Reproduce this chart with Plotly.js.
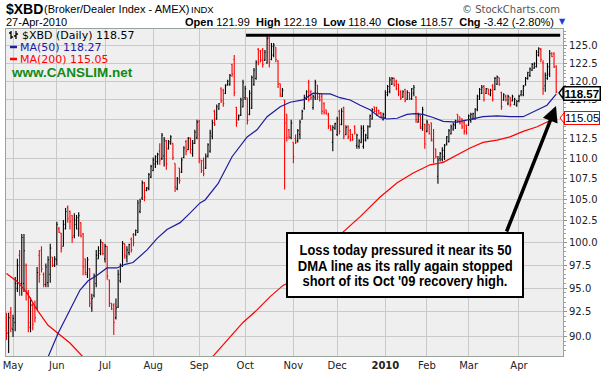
<!DOCTYPE html>
<html><head><meta charset="utf-8">
<script src="https://cdn.plot.ly/plotly-3.0.1.min.js"></script>
<style>html,body{margin:0;padding:0;background:#fff;}#chart{width:604px;height:378px;}</style>
</head><body><div id="chart"></div>
<script>
// Daily bars, 28-Apr-2009 .. 27-Apr-2010 (trading-day index 0..251)
const openP = [92.0,90.3,92.4,90.7,91.4,95.0,98.6,95.5,95.5,97.5,94.6,90.9,93.2,92.9,92.9,98.6,99.1,96.5,95.4,95.6,96.5,98.4,97.5,98.1,
101.6,101.1,99.6,101.6,104.1,103.6,103.1,100.8,102.1,101.6,102.3,101.0,98.2,96.5,97.1,92.9,94.2,95.5,98.2,98.8,100.0,
98.2,99.6,95.9,93.4,93.2,91.9,93.0,95.8,97.5,99.9,98.4,98.9,100.4,100.9,100.9,101.2,103.6,105.2,107.0,106.1,106.3,107.7,
108.5,109.3,109.6,110.9,110.0,110.3,112.2,111.2,111.9,111.9,109.4,106.3,108.8,108.3,110.1,112.1,111.1,112.6,110.6,111.9,112.6,
114.7,109.8,109.7,108.8,110.3,110.9,112.8,116.0,115.0,116.3,119.0,118.8,118.4,119.6,119.6,122.3,123.0,116.5,114.9,115.5,116.6,
117.8,117.8,115.6,116.4,119.6,120.4,124.4,124.2,124.3,122.9,122.5,126.0,123.0,123.6,124.7,122.8,119.7,118.0,117.5,115.6,113.6,112.6,
112.0,112.5,112.2,113.0,115.0,116.4,117.6,119.8,118.6,116.5,117.8,119.5,118.3,118.0,117.0,116.2,115.5,114.2,112.0,113.8,
113.0,116.0,114.3,116.5,113.0,114.0,113.5,113.0,114.0,111.6,111.5,112.0,111.5,112.3,112.6,114.0,115.0,116.6,116.5,116.1,115.8,114.9,
115.2,118.2,118.6,119.6,120.4,120.0,119.6,118.6,117.9,118.9,117.6,118.5,117.7,118.4,117.9,114.6,115.4,113.8,114.3,
113.4,114.3,114.5,112.2,111.2,107.8,110.0,109.9,110.2,111.8,112.1,113.1,113.7,114.2,115.6,115.3,115.0,114.5,114.2,
114.2,114.8,115.0,115.0,116.2,117.6,118.4,119.3,118.4,119.0,118.2,119.4,118.9,119.6,120.5,118.5,117.5,118.0,117.0,117.9,117.4,116.9,116.8,
117.4,118.2,118.2,119.5,120.4,120.8,121.5,121.8,122.0,123.6,124.4,122.5,119.4,120.4,121.0,123.9,123.8,121.99];
const highP = [92.4,92.4,93.0,92.2,96.2,98.2,99.2,101.0,101.0,97.7,94.8,94.0,93.4,93.7,97.3,99.2,99.6,96.7,97.7,98.5,99.9,98.4,98.5,102.4,
101.8,101.1,102.6,104.0,104.3,103.7,103.2,103.4,103.2,103.5,102.3,101.1,98.2,98.4,97.2,94.4,96.6,99.2,99.6,100.4,100.1,
99.9,99.6,95.9,93.4,93.4,93.9,97.0,97.7,100.2,99.9,99.6,99.9,100.6,101.1,101.5,104.95,105.1,107.3,107.1,106.5,108.2,109.2,
110.1,110.4,110.7,111.9,113.2,112.7,112.3,112.3,112.9,111.9,109.4,107.7,108.8,110.1,111.5,112.3,112.7,112.6,112.3,113.6,114.9,
114.9,109.8,110.1,110.6,111.9,113.6,114.9,116.2,116.9,117.1,119.2,119.0,119.6,120.2,121.0,122.4,123.6,116.6,115.6,117.8,120.2,
119.4,117.8,118.8,120.8,121.8,122.9,124.6,124.3,124.6,124.3,126.4,126.2,125.3,125.3,124.7,122.9,119.7,119.1,117.5,115.6,113.7,114.9,
112.0,113.0,113.7,114.9,116.2,118.2,118.8,120.2,118.8,118.2,120.2,119.5,118.3,118.3,117.2,116.2,115.8,114.2,114.2,114.5,
115.3,116.2,116.4,116.6,114.2,114.2,113.7,113.1,114.2,113.1,112.4,114.2,114.2,113.1,114.2,115.6,116.4,116.6,116.6,116.2,115.9,115.8,
118.8,119.5,120.6,120.6,120.5,120.2,119.7,118.8,118.8,119.0,118.8,118.5,119.1,119.5,118.0,115.8,115.6,116.6,114.4,
114.9,114.3,114.5,113.7,111.2,110.3,110.8,111.4,111.8,112.8,113.7,114.3,114.5,114.9,115.6,115.3,115.1,114.9,114.3,
115.6,115.8,115.8,116.4,118.2,119.1,119.5,119.5,119.1,119.0,119.0,119.6,120.6,120.8,120.5,118.6,118.4,118.2,118.2,117.9,118.2,117.8,117.5,
118.2,118.8,119.5,120.6,121.3,121.9,122.5,122.6,124.3,124.7,124.6,122.9,121.2,122.5,124.3,124.0,124.0,122.19];
const lowP = [89.6,88.3,90.4,89.9,90.5,94.6,94.2,94.2,94.6,93.7,90.4,90.4,90.6,91.4,92.7,95.6,96.7,95.1,95.1,95.1,95.6,97.3,97.3,97.5,
101.1,98.9,99.6,101.5,102.3,101.5,100.0,100.5,101.5,100.7,100.6,96.4,96.4,96.1,93.0,92.5,94.0,95.1,98.2,98.6,98.6,
97.8,95.9,93.0,92.7,90.1,91.7,92.9,95.6,97.3,98.2,97.8,98.6,98.9,99.6,100.8,101.1,103.4,104.95,104.8,106.0,106.1,107.6,
108.4,108.8,109.2,109.2,109.8,109.0,108.6,111.1,111.7,109.8,105.9,106.1,106.9,108.2,110.0,110.4,111.0,110.6,110.2,111.8,112.4,
109.4,108.2,107.8,108.7,110.1,110.7,112.4,114.1,114.9,116.2,117.1,116.6,118.3,119.4,119.4,120.6,118.0,114.0,114.8,115.4,116.5,
117.5,114.3,115.5,116.3,119.4,120.2,122.2,122.6,121.9,122.8,122.4,121.9,122.9,123.3,122.6,119.1,117.9,117.9,106.2,112.1,112.4,112.4,
109.4,111.8,112.0,112.4,114.9,116.2,117.5,117.3,117.5,116.2,117.5,117.5,117.3,115.6,115.6,115.6,113.7,113.5,110.9,113.6,
112.8,113.0,114.2,112.4,112.9,112.4,112.1,112.2,113.0,111.2,111.2,111.9,111.2,112.1,112.4,113.9,114.9,115.9,115.4,115.6,115.1,114.8,
115.1,118.0,118.4,119.5,119.3,118.8,118.0,117.5,117.8,117.2,117.5,117.5,117.5,118.0,114.5,114.5,113.7,113.5,111.2,
113.3,113.0,112.1,109.4,110.0,106.9,109.6,109.6,109.8,111.6,112.0,113.0,113.5,113.7,114.5,114.3,113.7,113.0,113.0,
114.1,114.5,114.9,114.9,116.0,117.5,118.3,117.3,118.3,118.2,118.0,117.3,118.8,119.5,119.4,116.2,117.4,117.3,116.8,116.6,117.3,116.8,116.6,
117.2,118.0,118.0,119.4,120.2,120.6,121.4,121.7,121.9,123.4,122.6,118.2,118.6,120.2,120.6,123.3,121.8,118.40];
const closeP = [90.3,91.9,90.8,91.8,95.5,97.5,95.5,100.6,99.1,94.4,91.4,93.2,91.2,91.9,96.7,96.5,97.1,95.4,97.3,98.1,99.4,97.5,98.2,102.1,
101.2,99.4,102.1,103.6,102.8,102.4,100.6,102.6,102.9,103.1,100.8,97.3,96.7,98.1,93.4,93.9,96.3,98.6,99.1,100.1,98.8,
99.6,96.3,93.4,92.8,91.4,92.9,96.5,97.5,99.9,98.6,99.2,99.8,99.2,100.0,101.4,104.6,104.8,107.0,105.3,106.4,108.0,109.0,
109.8,110.2,110.5,109.8,112.9,112.3,109.3,112.1,112.7,110.1,106.5,107.5,107.3,109.8,111.3,110.9,112.5,111.1,111.9,113.3,114.6,
110.0,108.5,108.1,110.2,111.7,113.2,114.5,114.3,116.6,117.0,117.4,117.0,119.4,120.0,120.8,121.0,118.5,114.5,115.4,117.5,119.8,
119.0,114.8,118.4,120.5,121.5,122.6,122.6,122.9,122.3,124.0,125.9,122.6,124.8,125.0,123.0,119.6,118.2,118.8,114.5,112.6,112.7,114.5,
110.2,112.0,113.5,114.6,116.0,117.8,118.6,117.6,117.8,118.0,119.8,117.9,117.5,116.0,115.9,115.7,114.0,113.6,113.9,114.4,
115.0,113.4,116.0,112.8,113.9,112.7,112.3,112.4,113.2,112.9,112.2,113.8,113.5,112.9,114.0,115.4,116.2,116.0,115.6,115.7,115.3,115.6,
118.5,119.3,120.2,120.4,119.5,119.0,118.3,117.7,118.6,117.4,118.5,117.6,119.0,119.2,114.9,115.6,114.0,116.2,111.8,
114.6,113.1,112.4,110.0,110.2,109.8,110.6,111.0,111.6,112.7,113.5,114.0,114.3,114.8,114.8,114.5,114.0,113.4,113.2,
115.4,115.6,115.7,116.3,118.0,118.9,119.2,117.6,119.0,118.3,118.8,117.6,120.4,120.6,119.6,116.6,118.2,117.5,118.0,116.9,118.0,117.6,117.3,
118.0,118.7,119.3,120.4,121.2,121.7,122.3,122.4,124.0,124.5,123.0,119.0,120.8,122.0,123.8,123.4,121.99,118.57];

// Moving averages (trading-day index, value)
const ma50Idx = [17.6,19,23.6,29,33.6,37.3,41.4,45.9,50.5,54.2,57.8,64.2,68.8,73.3,79.3,83.8,88.4,90.7,96.6,103,109.9,114.4,119,125,129.5,135.4,140,144.6,147.8,152.3,156.9,161.5,166,170.6,173.8,178.4,182.9,186.6,190.2,194.8,199.4,205.7,211.7,217.6,224,229.9,235.9,242.3,246.8,251];
const ma50Val = [87.1,87.9,90.3,92.7,94.8,95.8,96.4,97.2,97.2,97.6,97.8,99.2,100.5,101.5,102.3,103.4,104.6,104.95,106.9,110.2,112.7,113.6,115.3,116.6,117.2,117.5,118.4,118.3,118.3,117.8,117.5,116.8,116.2,115.2,115.0,115.1,115.6,115.7,115.6,115.2,114.7,114.6,115.0,115.3,115.4,115.3,115.3,116.2,116.8,118.27];
const ma200Idx = [0,5,9.4,14,19,23.6,29,35,40.5,60,94,100.7,108,114.4,120.4,126.3,128.1,141,153.7,161.5,170.6,178.4,185.7,193.4,199.4,205.7,211.7,217.6,224,229.9,235.9,242.3,246.8,251];
const ma200Val = [96.6,95.7,94.5,92.7,91.1,90.3,89.3,87.9,86.6,null,87.9,89.6,91.4,92.7,94.1,95.3,95.5,98.4,101.2,103.0,105.3,107.0,108.2,109.2,109.5,110.4,111.3,112.0,112.3,112.7,113.4,114.0,114.6,115.05];

// Oct '09 recovery high reference line
const highLineIdx = [109.4, 252.8];
const highLineVal = [126.4, 126.4];

const monthTickIdx = [3,23,45,67,88,109,131,151,173,192,211,234];
const monthTickText = ['May','Jun','Jul','Aug','Sep','Oct','Nov','Dec','<b>2010</b>','Feb','Mar','Apr'];
const yTickVals = [90,92.5,95,97.5,100,102.5,105,107.5,110,112.5,115,117.5,120,122.5,125];
const yTickText = ['90.0','92.5','95.0','97.5','100.0','102.5','105.0','107.5','110.0','112.5','115.0','117.5','120.0','122.5','125.0'];
const yMinorVals = [88.5,89,89.5,90.5,91,91.5,92,93,93.5,94,94.5,95.5,96,96.5,97,98,98.5,99,99.5,100.5,101,101.5,102,103,103.5,104,104.5,105.5,106,106.5,107,108,108.5,109,109.5,110.5,111,111.5,112,113,113.5,114,114.5,115.5,116,116.5,117,118,118.5,119,119.5,120.5,121,121.5,122,123,123.5,124,124.5,125.5,126,126.5,127];

const yMin = 88.0, yMax = 127.3;
const PL = 6, PR = 563, PT = 29, PB = 356;
const px = x => (x - PL) / (PR - PL);
const py = y => (PB - y) / (PB - PT);

const idx = closeP.map((_, i) => i);

const traces = [
  {type:'scatter', mode:'lines', x: ma200Idx, y: ma200Val, line:{color:'#ff0000', width:1.2}, connectgaps:false, hoverinfo:'skip'},
  {type:'scatter', mode:'lines', x: ma50Idx, y: ma50Val, line:{color:'#1c1c9c', width:1.2}, hoverinfo:'skip'},
  {type:'ohlc', x: idx, open: openP, high: highP, low: lowP, close: closeP, tickwidth:0.45,
   increasing:{line:{color:'#000000', width:1.1}}, decreasing:{line:{color:'#ff0000', width:1.1}}, hoverinfo:'skip'},
  {type:'scatter', mode:'lines', x: highLineIdx, y: highLineVal, line:{color:'#000000', width:3}, hoverinfo:'skip'}
];

const F = 'Liberation Sans, Arial, sans-serif';
const V = 'DejaVu Sans, Verdana, sans-serif';

function txt(x, y, text, size, opts) {
  return Object.assign({xref:'paper', yref:'paper', x: px(x), y: py(y), text: text, showarrow:false,
    xanchor:'left', yanchor:'middle', font:{family:F, size:size, color:'#000'}}, opts || {});
}

const boxLines = ['Loss today pressured it near its 50', 'DMA line as its rally again stopped', "short of its Oct '09 recovery high."];
const boxLineWidths = [212, 215, 205];

const annotations = [
  txt(4, 9, '<b>$XBD</b>', 14),
  txt(42, 9, '(Broker/Dealer Index - AMEX)', 11),
  txt(189, 10, 'INDX', 9.5),
  txt(4, 22, '27-Apr-2010', 11),
  txt(556, 22, '<b>Open</b> 121.99  <b>High</b> 122.19  <b>Low</b> 118.40  <b>Close</b> 118.57  <b>Chg</b> -3.42 (-2.80%)', 11, {xanchor:'right'}),
  txt(557, 22, '▼', 8, {font:{family:V, size:8, color:'#1a3cd8'}}),
  txt(562, 9, '© StockCharts.com', 11, {xanchor:'right', font:{family:V, size:10, color:'#555'}}),
  txt(20, 35, '$XBD (Daily) 118.57', 11, {font:{family:V, size:11, color:'#000'}}),
  txt(18, 47, 'MA(50) 118.27', 11, {font:{family:V, size:11, color:'#1c1c9c'}}),
  txt(18, 59, 'MA(200) 115.05', 11, {font:{family:V, size:11, color:'#ff0000'}}),
  txt(9, 72, '<b>www.CANSLIM.net</b>', 13.5, {font:{family:F, size:13.5, color:'#118a11'}}),
  txt(405, 250, boxLines[0], 14, {xanchor:'center', font:{family:F, size:14, weight:'bold', color:'#000'}}),
  txt(405, 265.5, boxLines[1], 14, {xanchor:'center', font:{family:F, size:14, weight:'bold', color:'#000'}}),
  txt(405, 281, boxLines[2], 14, {xanchor:'center', font:{family:F, size:14, weight:'bold', color:'#000'}}),
  txt(563, 93, '<b>118.57</b>', 11, {font:{family:F, size:11.5, color:'#000'}, bgcolor:'#fff', bordercolor:'#000', borderwidth:1.5, borderpad:0}),
  txt(564, 118, '115.05', 11, {font:{family:F, size:11.5, color:'#000'}, bgcolor:'#fff', bordercolor:'#ff0000', borderwidth:1, borderpad:0}),
  {xref:'paper', yref:'paper', x: px(556), y: py(106), ax: -50, ay: 127, text:'', showarrow:true,
   arrowhead:2, arrowsize:0.9, arrowwidth:3.5, arrowcolor:'#000', standoff:0, startstandoff:0}
];

const shapes = [
  {type:'rect', xref:'paper', yref:'paper', x0: px(287), x1: px(523), y0: py(297), y1: py(233), line:{color:'#000', width:2}, fillcolor:'#fff', layer:'above'},
  {type:'line', xref:'paper', yref:'paper', x0: px(10), x1: px(17), y0: py(47), y1: py(47), line:{color:'#1c1c9c', width:2.5}},
  {type:'line', xref:'paper', yref:'paper', x0: px(10), x1: px(17), y0: py(59), y1: py(59), line:{color:'#ff0000', width:2.5}},
  {type:'path', xref:'paper', yref:'paper', xsizemode:'pixel', ysizemode:'pixel', xanchor: px(0), yanchor: py(0),
   path:'M 11 -31 L 11 -39 M 9 -33 L 11 -33 M 11 -37 L 13 -37 M 16 -31 L 16 -39 M 14 -36 L 16 -36 M 16 -34 L 18 -34', line:{color:'#000', width:1.3}},
  {type:'path', xref:'paper', yref:'paper', xsizemode:'pixel', ysizemode:'pixel', xanchor: px(563), yanchor: py(93),
   path:'M -4 0 L 0 5.5 L 0 -5.5 Z', fillcolor:'#fff', line:{color:'#000', width:1.3}},
  {type:'path', xref:'paper', yref:'paper', xsizemode:'pixel', ysizemode:'pixel', xanchor: px(564), yanchor: py(118),
   path:'M -4 0 L 0 5 L 0 -5 Z', fillcolor:'#fff', line:{color:'#ff0000', width:1}}
];

const layout = {
  width:604, height:378, autosize:false,
  margin:{l:PL, r:604-PR, t:PT, b:378-PB, pad:0},
  paper_bgcolor:'#ffffff', plot_bgcolor:'#efefef',
  showlegend:false, hovermode:false,
  xaxis:{type:'linear', range:[-0.2, 254.1], tickmode:'array', tickvals: monthTickIdx, ticktext: monthTickText,
    showgrid:true, gridcolor:'#c9c9c9', gridwidth:1, zeroline:false, showline:true, linecolor:'#9aa39a', linewidth:1, mirror:true,
    ticks:'', tickfont:{family:V, size:10, color:'#222'}, rangeslider:{visible:false}, fixedrange:true},
  yaxis:{type:'log', side:'right', range:[Math.log10(yMin), Math.log10(yMax)], tickmode:'array', tickvals: yTickVals, ticktext: yTickText,
    showgrid:true, gridcolor:'#c9c9c9', gridwidth:1, zeroline:false, showline:true, linecolor:'#9aa39a', linewidth:1, mirror:true,
    ticks:'outside', ticklen:3, tickcolor:'#8a948a', tickfont:{family:V, size:10, color:'#222'}, fixedrange:true,
    minor:{tickmode:'array', tickvals: yMinorVals, ticks:'outside', ticklen:2, tickcolor:'#9aa39a', showgrid:false}},
  annotations: annotations,
  shapes: shapes
};

Plotly.newPlot('chart', traces, layout, {staticPlot:true, displayModeBar:false}).then(() => {
  // condense the call-out box lines to the narrow bold face widths of the original
  document.querySelectorAll('text.annotation-text').forEach(el => {
    const k = boxLines.indexOf(el.textContent);
    if (k < 0) return;
    const b0 = el.getBBox();
    const cx0 = b0.x + b0.width / 2;
    el.setAttribute('textLength', boxLineWidths[k]);
    el.setAttribute('lengthAdjust', 'spacingAndGlyphs');
    const b1 = el.getBBox();
    const dx = cx0 - (b1.x + b1.width / 2);
    const t = el.getAttribute('transform') || '';
    el.setAttribute('transform', (t + ' translate(' + dx + ',0)').trim());
  });
});
</script>
</body></html>
